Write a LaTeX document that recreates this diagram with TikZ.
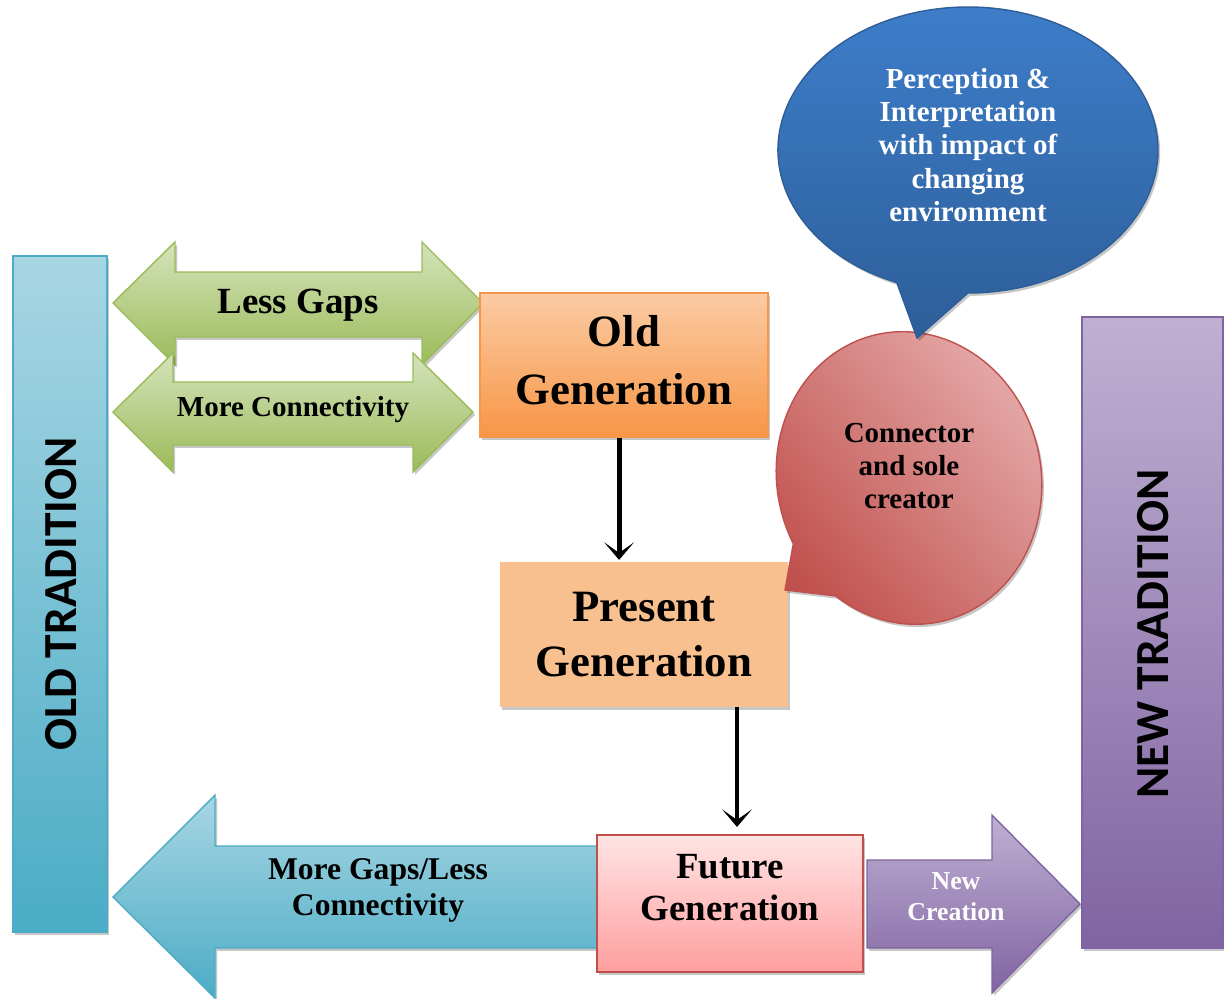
\documentclass[tikz,border=0pt]{standalone}
\usepackage{fontspec}
\setmainfont{Liberation Serif}
\newfontfamily\calfont{Carlito}
\usetikzlibrary{arrows.meta,shadows}

\definecolor{tradblue}{HTML}{4BACC6}
\definecolor{tradbluelt}{HTML}{A8D6E3}
\definecolor{leafgreen}{HTML}{9BBB59}
\definecolor{leafgreenlt}{HTML}{D5E3BB}
\definecolor{oldorange}{HTML}{F79646}
\definecolor{oldorangelt}{HTML}{FBCBA4}
\definecolor{presorange}{HTML}{F9C08F}
\definecolor{futred}{HTML}{C0504D}
\definecolor{futpinklt}{HTML}{FFE4E4}
\definecolor{futpink}{HTML}{FF9E9E}
\definecolor{newpurple}{HTML}{8064A2}
\definecolor{newpurplelt}{HTML}{BFB0D2}
\definecolor{bubbleblue}{HTML}{2D5E99}
\definecolor{bubblebluelt}{HTML}{3E7FCC}
\definecolor{bubblered}{HTML}{C0504D}
\definecolor{bubbleredlt}{HTML}{E6ADAC}

\tikzset{
  soft shadow/.style={drop shadow={shadow xshift=1.2pt,shadow yshift=-1.6pt,opacity=.22,fill=black}},
  tradold/.style={draw=tradblue, line width=.8pt, top color=tradbluelt, bottom color=tradblue, soft shadow},
  tradnew/.style={draw=newpurple, line width=.8pt, top color=newpurplelt, bottom color=newpurple, soft shadow},
  tradlabel/.style={font=\calfont\bfseries\fontsize{27}{30}\selectfont, inner sep=0pt},
  greenarrow/.style={draw=leafgreen, line width=.8pt, top color=leafgreenlt, bottom color=leafgreen, soft shadow},
  genbox/.style={align=center, inner sep=0pt, soft shadow},
  flow/.style={line width=2.8pt, -{Stealth[length=10pt,width=17pt,inset=6pt]}},
}

\begin{document}
\begin{tikzpicture}[x=0.02cm, y=-0.02cm]
      \useasboundingbox (0,0) rectangle (1224,998);

      % old and new tradition
      \draw[tradold] (13,256) rectangle (107,932);
      \node (oldtrad) at (61,594) [rotate=90, tradlabel] {OLD TRADITION};
      \draw[tradnew] (1082,317) rectangle (1223,948);
      \node (newtrad) at (1153,634) [rotate=90, tradlabel] {NEW TRADITION};

      % green double arrows
      \draw[greenarrow] (113,303) -- (175,242) -- (175,272) -- (422,272) -- (422,242)
      -- (483,303) -- (422,365) -- (422,337) -- (175,337) -- (175,365) -- cycle;
      \node (lessgaps) at (298,305) [font=\bfseries\fontsize{21}{24}\selectfont] {Less Gaps};
      \draw[greenarrow] (113,412) -- (173,353) -- (173,382) -- (413,382) -- (413,353)
      -- (473,412) -- (413,472) -- (413,445) -- (173,445) -- (173,472) -- cycle;
      \node (moreconn) at (293,410) [font=\bfseries\fontsize{16.5}{19}\selectfont] {More Connectivity};

      % generations
      \node (oldgen) at (624,365) [genbox, draw=oldorange, line width=.8pt,
        top color=oldorangelt, bottom color=oldorange,
        minimum width=5.76cm, minimum height=2.88cm, text depth=6pt,
        font=\bfseries\fontsize{25.5}{33}\selectfont] {Old\\Generation};
      \node (presgen) at (644,634.5) [genbox, fill=presorange,
        minimum width=5.76cm, minimum height=2.9cm,
        font=\bfseries\fontsize{25.5}{31}\selectfont] {Present\\Generation};

      % bottom arrows
      \draw[draw=tradblue, line width=.8pt, top color=tradbluelt, bottom color=tradblue, soft shadow]
      (113,897) -- (215,795) -- (215,846) -- (598,846) -- (598,948) -- (215,948) -- (215,998) -- cycle;
      \node (moregaps) at (378,890) [align=center, font=\bfseries\fontsize{18}{20.5}\selectfont]
        {More Gaps/Less\\Connectivity};
      \draw[draw=newpurple, line width=.8pt, top color=newpurplelt, bottom color=newpurple, soft shadow]
      (867,860) -- (992,860) -- (992,815) -- (1080,904) -- (992,993) -- (992,948) -- (867,948) -- cycle;
      \node (newcreation) at (956,897) [align=center, text=white,
        font=\bfseries\fontsize{14.7}{17.5}\selectfont] {New\\Creation};

      \node (futgen) at (730,903.5) [genbox, draw=futred, line width=1.2pt,
        top color=futpinklt, bottom color=futpink,
        minimum width=5.32cm, minimum height=2.74cm, text depth=18pt,
        font=\bfseries\fontsize{21}{24}\selectfont] {Future\\Generation};

      \draw[flow] ([xshift=-2.8pt]oldgen.south) -- ([xshift=-2.8pt, yshift=1pt]oldgen.south |- presgen.north);
      \draw[flow] ([xshift=4pt]presgen.south -| futgen.north) -- ([xshift=4pt, yshift=4pt]futgen.north);

      % speech bubbles
      \coordinate (redtip) at (785,590);
      \begin{scope}[shift={(909,478)}, rotate=13]
        \draw[draw=bubblered, line width=.8pt, top color=bubbleredlt, bottom color=bubblered,
          shading angle=-50, soft shadow]
        (redtip) -- (-127.5,38.05) arc[start angle=165, end angle=498, x radius=132, y radius=147] -- cycle;
      \end{scope}
      \node (connector) at (909,466) [align=center, font=\bfseries\fontsize{16.5}{19}\selectfont]
        {Connector\\and sole\\creator};

      \coordinate (bluetip) at (917,338);
      \draw[draw=bubbleblue, line width=.8pt, top color=bubblebluelt, bottom color=bubbleblue, soft shadow]
      (bluetip) -- (896.8,282.6) arc[start angle=112, end angle=450, x radius=190, y radius=143] -- cycle;
      \node (perception) at (968,145) [align=center, text=white, font=\bfseries\fontsize{16.5}{19}\selectfont]
        {Perception \&\\Interpretation\\with impact of\\changing\\environment};
\end{tikzpicture}
\end{document}
